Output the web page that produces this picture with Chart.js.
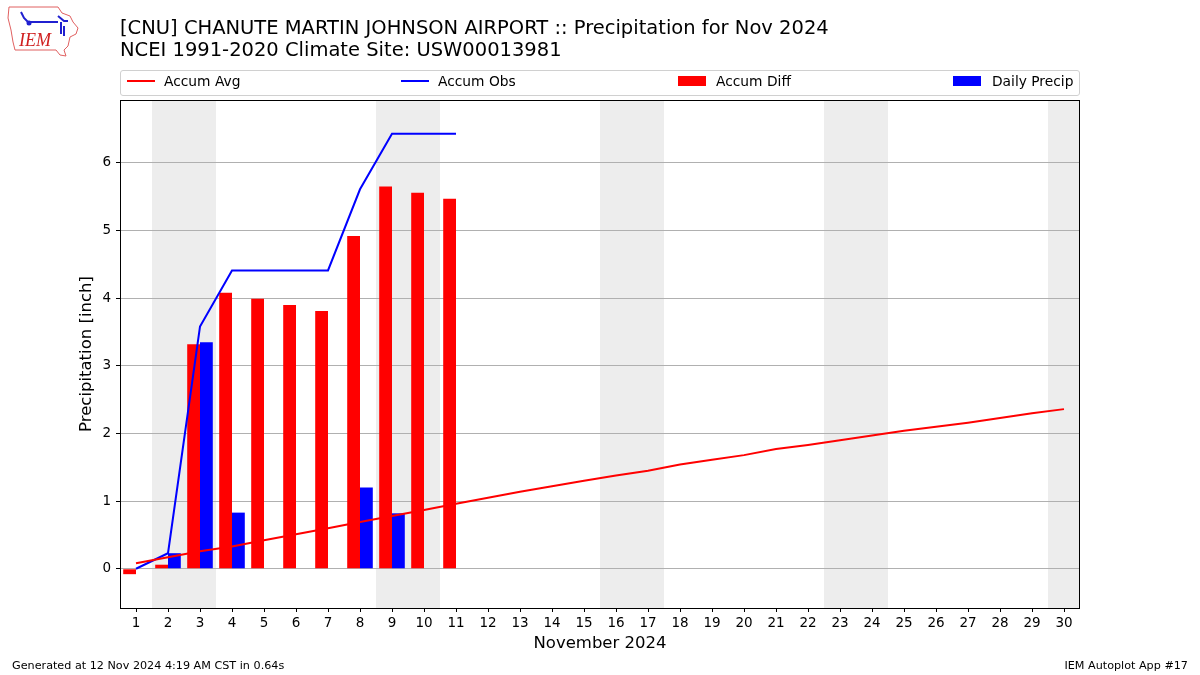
<!DOCTYPE html>
<html>
<head>
<meta charset="utf-8">
<script src="https://cdn.jsdelivr.net/npm/chart.js@4.4.1/dist/chart.umd.min.js"></script>
<style>
    body { margin: 0; background: #fff; font-family: "DejaVu Sans", sans-serif; color: #000; }
    #wrap { position: relative; width: 1200px; height: 675px; overflow: hidden; }
    #myChart { position: absolute; left: 0; top: 0; }
    .title { position: absolute; left: 120px; top: 17px; font-size: 19.5px; line-height: 22px; white-space: nowrap; }
    .legend { position: absolute; left: 120px; top: 70px; width: 958px; height: 24px; border: 1px solid #d0d0d0; border-radius: 3px; }
    .lg { position: absolute; top: -2px; height: 24px; line-height: 24px; font-size: 13.8px; white-space: nowrap; }
    .sw-line { position: absolute; height: 2px; width: 28px; top: 9px; }
    .sw-box { position: absolute; height: 10px; width: 28px; top: 5px; }
    .foot { position: absolute; top: 659px; font-size: 11.2px; white-space: nowrap; }
    #logo { position: absolute; left: 6px; top: 4px; }
</style>
</head>
<body>
<div id="wrap">
    <canvas id="myChart" width="1200" height="675"></canvas>

    <svg id="logo" width="76" height="56" viewBox="0 0 76 56">
        <polygon points="3,3 52,3 56,9 64,12 67,18 72,24 70,30 64,33 62,42 58,46 60,52 54,51 50,46 9,46 7,38 5,26 2,14"
                 fill="none" stroke="#e06060" stroke-width="1"/>
        <path d="M15,8 L18,14 L22,18 M22,18 L52,18 M52,12 L58,17 L62,17 M55,18 L55,30 M58,22 L58,32" stroke="#2020d0" stroke-width="2" fill="none"/>
        <circle cx="23" cy="19" r="2.5" fill="#2020d0"/>
        <text x="13" y="42" font-family="Liberation Serif, serif" font-style="italic" font-size="18" fill="#d02020">IEM</text>
    </svg>

    <div class="title">[CNU] CHANUTE MARTIN JOHNSON AIRPORT :: Precipitation for Nov 2024<br>NCEI 1991-2020 Climate Site: USW00013981</div>

    <div class="legend">
        <span class="sw-line" style="left:6px;background:#ff0000"></span>
        <span class="lg" style="left:43px">Accum Avg</span>
        <span class="sw-line" style="left:280px;background:#0000ff"></span>
        <span class="lg" style="left:317px">Accum Obs</span>
        <span class="sw-box" style="left:557px;background:#ff0000"></span>
        <span class="lg" style="left:595px">Accum Diff</span>
        <span class="sw-box" style="left:832px;background:#0000ff"></span>
        <span class="lg" style="left:871px">Daily Precip</span>
    </div>

    <div class="foot" style="left:12px">Generated at 12 Nov 2024 4:19 AM CST in 0.64s</div>
    <div class="foot" style="right:12px">IEM Autoplot App #17</div>
</div>

<script>
// days of November 2024
const days = ['1','2','3','4','5','6','7','8','9','10','11','12','13','14','15',
              '16','17','18','19','20','21','22','23','24','25','26','27','28','29','30']

// climatology accumulated average (inch)
const accumAvg = [0.08, 0.17, 0.26, 0.33, 0.42, 0.51, 0.60, 0.69, 0.78, 0.87,
                  0.96, 1.05, 1.14, 1.22, 1.30, 1.38, 1.45, 1.54, 1.61, 1.68,
                  1.77, 1.83, 1.90, 1.97, 2.04, 2.10, 2.16, 2.23, 2.30, 2.36]

// observed so far (through the 11th)
const accumObs = [0.00, 0.23, 3.58, 4.41, 4.41, 4.41, 4.41, 5.61, 6.43, 6.43, 6.43]
const accumDiff = [-0.08, 0.06, 3.32, 4.08, 3.99, 3.90, 3.81, 4.92, 5.65, 5.56, 5.47]
const dailyPrecip = [0.00, 0.23, 3.35, 0.83, 0.00, 0.00, 0.00, 1.20, 0.82, 0.00, 0.00]

const weekendDays = [2, 3, 9, 10, 16, 17, 23, 24, 30]
const yTicks = [0, 1, 2, 3, 4, 5, 6]

const FONT = '"DejaVu Sans", sans-serif'

// grey bands behind weekends, drawn before the grid
const weekendShade = {
    id: 'weekendShade',
    beforeDraw(chart) {
        const {ctx, chartArea, scales} = chart
        const x = scales.x
        const w = x.getPixelForValue(1) - x.getPixelForValue(0)
        ctx.save()
        ctx.fillStyle = '#ededed'
        weekendDays.forEach(d => {
            const c = x.getPixelForValue(d - 1)
            const left = Math.max(c - w / 2, chartArea.left)
            const right = Math.min(c + w / 2, chartArea.right)
            ctx.fillRect(left, chartArea.top, right - left, chartArea.bottom - chartArea.top)
        })
        ctx.restore()
    }
}

// matplotlib style box around the axes
const frame = {
    id: 'frame',
    afterDraw(chart) {
        const {ctx, chartArea} = chart
        ctx.save()
        ctx.strokeStyle = '#000'
        ctx.lineWidth = 1
        ctx.strokeRect(chartArea.left + 0.5, chartArea.top + 0.5,
                       chartArea.right - chartArea.left - 1, chartArea.bottom - chartArea.top)
        ctx.restore()
    }
}

const ctx = document.getElementById('myChart')
new Chart(ctx, {
    type: 'bar',
    data: {
        labels: days,
        datasets: [
            {
                type: 'line',
                label: 'Accum Avg',
                data: accumAvg,
                borderColor: '#ff0000',
                borderWidth: 2,
                pointRadius: 0,
                tension: 0,
                order: 0
            },
            {
                type: 'line',
                label: 'Accum Obs',
                data: accumObs,
                borderColor: '#0000ff',
                borderWidth: 2,
                pointRadius: 0,
                tension: 0,
                order: 0
            },
            {
                label: 'Accum Diff',
                data: accumDiff,
                backgroundColor: '#ff0000',
                categoryPercentage: 0.8,
                barPercentage: 1.0,
                order: 1
            },
            {
                label: 'Daily Precip',
                data: dailyPrecip,
                backgroundColor: '#0000ff',
                categoryPercentage: 0.8,
                barPercentage: 1.0,
                order: 1
            }
        ]
    },
    options: {
        responsive: false,
        animation: false,
        layout: { padding: { left: 0, right: 120, top: 100, bottom: 0 } },
        plugins: {
            legend: { display: false },
            tooltip: { enabled: false }
        },
        scales: {
            x: {
                offset: true,
                grid: { offset: false, drawOnChartArea: false, tickLength: 4, tickColor: '#000' },
                border: { display: false },
                ticks: { autoSkip: false, maxRotation: 0, color: '#000', padding: 3, font: { family: FONT, size: 13.5 } },
                title: { display: true, text: 'November 2024', color: '#000', padding: { top: 0, bottom: 21 }, font: { family: FONT, size: 16.5 } },
                afterFit(scale) { scale.height = 67 }
            },
            y: {
                min: -0.58,
                max: 6.93,
                grid: { color: '#b0b0b0', tickColor: '#000', tickLength: 4 },
                border: { display: false },
                ticks: { color: '#000', padding: 5, font: { family: FONT, size: 13.5 } },
                title: { display: true, text: 'Precipitation [inch]', color: '#000', padding: { top: 77, bottom: 0 }, font: { family: FONT, size: 16.5 } },
                afterBuildTicks(scale) { scale.ticks = yTicks.map(v => ({ value: v })) },
                afterFit(scale) { scale.width = 120 }
            }
        }
    },
    plugins: [weekendShade, frame]
})
</script>
</body>
</html>
